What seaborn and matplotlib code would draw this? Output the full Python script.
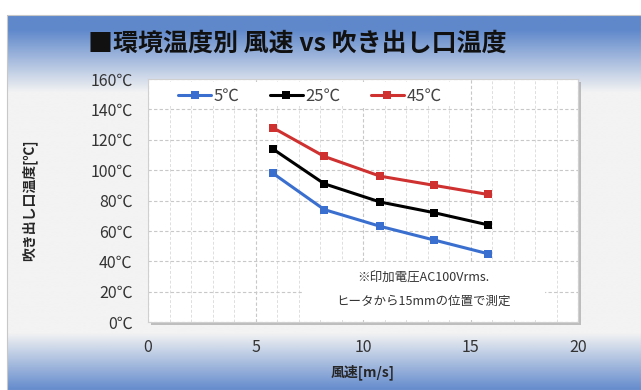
import numpy as np
import pandas as pd
import matplotlib
matplotlib.use("Agg")
import matplotlib.pyplot as plt
from matplotlib.patches import Rectangle
import seaborn as sns

# wind speed [m/s]
wind_speed = [5.8, 8.2, 10.8, 13.3, 15.8]
# outlet temperature per ambient temperature
temp_5 = [98, 74, 63, 54, 45]
temp_25 = [114, 91, 79, 72, 64]
temp_45 = [128, 109, 96, 90, 84]

series_names = ["5℃", "25℃", "45℃"]
y_ticks = [0, 20, 40, 60, 80, 100, 120, 140, 160]
y_tick_labels = [f"{v}℃" for v in y_ticks]
x_ticks = [0, 5, 10, 15, 20]

df = pd.DataFrame({
    "wind": wind_speed * 3,
    "temp": temp_5 + temp_25 + temp_45,
    "series": [series_names[0]] * 5 + [series_names[1]] * 5 + [series_names[2]] * 5,
})

sns.set_theme(style="white")
plt.rcParams["font.family"] = ["Noto Sans CJK JP", "DejaVu Sans"]

W, H = 641, 390
fig = plt.figure(figsize=(W / 100, H / 100), dpi=100)

# background panel with blue gradient top and bottom
bg = fig.add_axes([0, 0, 1, 1], zorder=-10)
bg.set_xlim(0, W)
bg.set_ylim(H, 0)
bg.axis("off")
rows = np.arange(H)
top_c = np.array([0x5f, 0x88, 0xcb]) / 255
mid_c = np.array([0xf3, 0xf3, 0xf3]) / 255
bot_c = np.array([0x62, 0x8a, 0xcc]) / 255
keys = [15, 80, 330, 390]
grad = np.zeros((H, 1, 3))
for ch in range(3):
    grad[:, 0, ch] = np.interp(rows, keys, [top_c[ch], mid_c[ch], mid_c[ch], bot_c[ch]])
bg.imshow(grad, extent=(7, W, H, 15), aspect="auto", interpolation="bilinear")
bg.add_patch(Rectangle((7, 15), W - 7, H - 15, fill=False, edgecolor="#c8c8c8", lw=0.8))

# shadow behind plot area
bg.add_patch(Rectangle((151, 82), 430, 243, color="#9a9a9a", alpha=0.6, lw=0))

ax = fig.add_axes([148 / W, 1 - 322 / H, 430 / W, 243 / H])
ax.set_facecolor("white")

palette = {"5℃": "#3a6fcf", "25℃": "#000000", "45℃": "#cf3030"}
sns.lineplot(data=df, x="wind", y="temp", hue="series", style="series",
             markers=["s", "s", "s"], dashes=False, palette=palette,
             markersize=6, markeredgewidth=0, linewidth=2.2, ax=ax, zorder=5)

ax.set_xlim(0, 20)
ax.set_ylim(0, 160)
ax.set_xticks(x_ticks)
ax.set_yticks(y_ticks)
ax.set_yticklabels(y_tick_labels)
ax.set_xticks(np.arange(0, 21, 1), minor=True)
ax.grid(which="major", linestyle=(0, (3, 2)), color="#c8c8c8", linewidth=0.8)
ax.grid(which="minor", axis="x", linestyle=(0, (3, 2)), color="#dedede", linewidth=0.7)
ax.tick_params(axis="both", which="both", length=0, labelsize=11.5, colors="#333333")
ax.tick_params(axis="x", pad=12)
ax.tick_params(axis="y", pad=11)
for s in ax.spines.values():
    s.set_color("#d0d0d0")
    s.set_linewidth(0.8)

ax.set_xlabel("風速[m/s]", fontsize=10, fontweight="bold")
ax.set_ylabel("吹き出し口温度[℃]", fontsize=10, fontweight="bold")
ax.xaxis.set_label_coords(0.5, -(364 - 322) / 243)
ax.yaxis.set_label_coords(-(148 - 37) / 430, 0.5)

# legend strip
ax.add_patch(Rectangle((0.016, 0.889), 0.698, 0.099, transform=ax.transAxes,
                       facecolor="white", edgecolor="none", zorder=4))
leg = ax.legend(loc="center left", bbox_to_anchor=(0.07, 0.93), ncol=3,
                frameon=False, fontsize=12, handlelength=2.0, handletextpad=0.15,
                columnspacing=1.8, borderpad=0, borderaxespad=0)
leg.set_zorder(6)
for t in leg.get_texts():
    t.set_color("#444444")

# note box
ax.add_patch(Rectangle((0.358, 0.008), 0.565, 0.239, transform=ax.transAxes,
                       facecolor="white", edgecolor="none", zorder=4))
ax.text(0.64, 0.18, "※印加電圧AC100Vrms.", transform=ax.transAxes,
        ha="center", va="center", fontsize=9, color="#333333", zorder=6)
ax.text(0.64, 0.085, "ヒータから15mmの位置で測定", transform=ax.transAxes,
        ha="center", va="center", fontsize=9, color="#333333", zorder=6)

fig.text(88 / W, 1 - 44 / H, "■環境温度別 風速 vs 吹き出し口温度", fontsize=18,
         fontweight="bold", ha="left", va="center", color="#111111")

fig.savefig("out.png", dpi=100)
